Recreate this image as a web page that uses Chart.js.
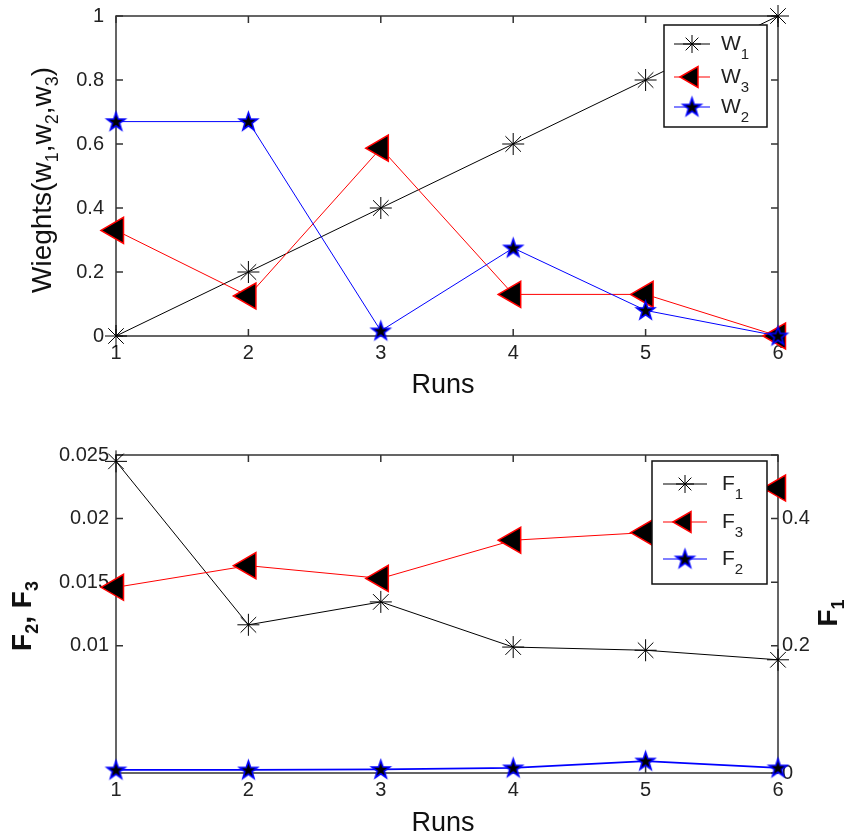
<!DOCTYPE html>
<html>
<head>
<meta charset="utf-8">
<script src="https://cdn.jsdelivr.net/npm/chart.js@4/dist/chart.umd.min.js"></script>
<style>
  html, body { margin: 0; padding: 0; background: #ffffff; }
  #wrap { position: relative; width: 850px; height: 836px; overflow: hidden; }
  canvas { position: absolute; left: 0; }
  #c1 { top: 0; }
  #c2 { top: 420px; }
</style>
</head>
<body>
<div id="wrap">
  <canvas id="c1" width="850" height="420"></canvas>
  <canvas id="c2" width="850" height="416"></canvas>
</div>
<script>
// ---------------- DATA ----------------
const runs = ['1', '2', '3', '4', '5', '6'];

// top panel: weights
const w1 = [0, 0.2, 0.4, 0.6, 0.8, 1.0];
const w3 = [0.33, 0.125, 0.587, 0.13, 0.13, 0];
const w2 = [0.67, 0.67, 0.016, 0.275, 0.08, 0];
const topYTicks = [0, 0.2, 0.4, 0.6, 0.8, 1];
const topYTickLabels = ['0', '0.2', '0.4', '0.6', '0.8', '1'];

// bottom panel: objectives
const f1 = [0.49, 0.233, 0.269, 0.198, 0.193, 0.178];          // right axis
const f3 = [0.0146, 0.0163, 0.0153, 0.0183, 0.0189, 0.0224];   // left axis
const f2 = [0.00024, 0.00024, 0.00028, 0.0004, 0.00094, 0.0004]; // left axis
const leftYTicks = [0.01, 0.015, 0.02, 0.025];
const leftYTickLabels = ['0.01', '0.015', '0.02', '0.025'];
const rightYTicks = [0, 0.2, 0.4];
const rightYTickLabels = ['0', '0.2', '0.4'];

// ---------------- STYLE HELPERS ----------------
const NARROW = "'Liberation Sans Narrow', 'Liberation Sans', Arial, sans-serif";
const SANS = "'Liberation Sans', Arial, sans-serif";
const TICK_COLOR = '#222222';
const AXIS_COLOR = '#333333';

function makePentagram(R, fill, stroke, lw) {
  const size = Math.ceil(2 * R + 2 * lw + 2);
  const c = document.createElement('canvas');
  c.width = size; c.height = size;
  const g = c.getContext('2d');
  const cx = size / 2, cy = size / 2 + 0.5;
  const r = R * 0.4;
  g.beginPath();
  for (let i = 0; i < 10; i++) {
    const ang = -Math.PI / 2 + i * Math.PI / 5;
    const rr = (i % 2 === 0) ? R : r;
    const px = cx + rr * Math.cos(ang), py = cy + rr * Math.sin(ang);
    if (i === 0) g.moveTo(px, py); else g.lineTo(px, py);
  }
  g.closePath();
  g.fillStyle = fill; g.fill();
  g.lineWidth = lw; g.strokeStyle = stroke; g.stroke();
  return c;
}
const starImg = makePentagram(9.5, '#000000', '#0000ff', 1.6);

const asteriskStyle = { pointStyle: 'star', radius: 11, rotation: 0, borderWidth: 1, stroke: '#000000', fill: '#000000' };
const triStyle = { pointStyle: 'triangle', radius: 15, rotation: -90, borderWidth: 1.5, stroke: '#ff0000', fill: '#000000' };
const pentStyle = { pointStyle: starImg, radius: 9, rotation: 0, borderWidth: 1, stroke: '#0000ff', fill: '#000000' };

function ds(label, data, color, lw, st, axis, order) {
  const d = {
    label, data,
    borderColor: color, borderWidth: lw, tension: 0, fill: false,
    pointStyle: st.pointStyle, pointRadius: st.radius, pointRotation: st.rotation,
    pointBorderWidth: st.borderWidth, pointBorderColor: st.stroke, pointBackgroundColor: st.fill,
    pointHoverRadius: st.radius,
    clip: false, order
  };
  if (axis) d.yAxisID = axis;
  return d;
}

function noPad(s) { s.paddingTop = 0; s.paddingBottom = 0; s.paddingLeft = 0; s.paddingRight = 0; }

// draw text made of parts (supports subscripts), possibly rotated
function drawRich(ctx, parts, x, y, rot, align) {
  ctx.save();
  ctx.translate(x, y);
  ctx.rotate(rot);
  ctx.textBaseline = 'alphabetic';
  ctx.textAlign = 'left';
  let total = 0;
  parts.forEach(p => { ctx.font = p.font; p.w = ctx.measureText(p.t).width; total += p.w; });
  let cx = align === 'center' ? -total / 2 : 0;
  parts.forEach(p => {
    ctx.font = p.font;
    ctx.fillStyle = p.color || '#111111';
    ctx.fillText(p.t, cx, p.dy || 0);
    cx += p.w;
  });
  ctx.restore();
}

function tickFrame(chart, leftScaleId, rightScaleIds) {
  const { ctx, chartArea: a } = chart;
  const L = 7;
  ctx.save();
  ctx.strokeStyle = AXIS_COLOR;
  ctx.lineWidth = 1.5;
  ctx.strokeRect(a.left, a.top, a.right - a.left, a.bottom - a.top);
  ctx.beginPath();
  const xs = chart.scales.x;
  xs.ticks.forEach((t, i) => {
    const px = xs.getPixelForTick(i);
    ctx.moveTo(px, a.bottom); ctx.lineTo(px, a.bottom - L);
    ctx.moveTo(px, a.top); ctx.lineTo(px, a.top + L);
  });
  const ls = chart.scales[leftScaleId];
  ls.ticks.forEach(t => {
    const py = ls.getPixelForValue(t.value);
    ctx.moveTo(a.left, py); ctx.lineTo(a.left + L, py);
    ctx.moveTo(a.right, py); ctx.lineTo(a.right - L, py);
  });
  (rightScaleIds || []).forEach(id => {
    const rs = chart.scales[id];
    rs.ticks.forEach(t => {
      const py = rs.getPixelForValue(t.value);
      ctx.moveTo(a.right, py); ctx.lineTo(a.right - L, py);
    });
  });
  ctx.stroke();
  ctx.restore();
}

function drawLegendBox(chart, box, entries) {
  const ctx = chart.ctx;
  ctx.save();
  ctx.fillStyle = '#ffffff';
  ctx.fillRect(box.x, box.y, box.w, box.h);
  ctx.strokeStyle = '#111111';
  ctx.lineWidth = 1.5;
  ctx.strokeRect(box.x, box.y, box.w, box.h);
  entries.forEach(e => {
    ctx.beginPath();
    ctx.strokeStyle = e.color;
    ctx.lineWidth = 1.2;
    ctx.moveTo(box.lx1, e.y); ctx.lineTo(box.lx2, e.y);
    ctx.stroke();
    ctx.save();
    ctx.strokeStyle = e.st.stroke;
    ctx.fillStyle = e.st.fill;
    ctx.lineWidth = e.st.borderWidth;
    const mr = e.st.legendRadius || e.st.radius;
    Chart.helpers.drawPoint(ctx, { pointStyle: e.st.pointStyle, radius: mr, rotation: e.st.rotation, borderWidth: e.st.borderWidth }, box.mx, e.y);
    ctx.restore();
    drawRich(ctx, [
      { t: e.main, font: '21px ' + NARROW, color: '#222222' },
      { t: e.sub, font: '15px ' + NARROW, dy: 9, color: '#222222' }
    ], box.tx, e.y + 6, 0, 'left');
  });
  ctx.restore();
}

// ---------------- TOP CHART ----------------
const topPlugin = {
  id: 'topDeco',
  beforeDatasetsDraw(chart) { tickFrame(chart, 'y', []); },
  afterDatasetsDraw(chart) {
    drawLegendBox(chart, { x: 664, y: 25, w: 103, h: 102, lx1: 674, lx2: 710, mx: 692, tx: 721 }, [
      { main: 'W', sub: '1', y: 44, color: '#000000', st: Object.assign({}, asteriskStyle, { legendRadius: 9 }) },
      { main: 'W', sub: '3', y: 77, color: '#ff0000', st: Object.assign({}, triStyle, { legendRadius: 12 }) },
      { main: 'W', sub: '2', y: 107, color: '#0000ff', st: pentStyle }
    ]);
    const ctx = chart.ctx;
    // x title
    drawRich(ctx, [{ t: 'Runs', font: '27px ' + SANS }], 443, 393, 0, 'center');
    // y title with subscripts
    const big = '28px ' + SANS, small = '18px ' + SANS;
    drawRich(ctx, [
      { t: 'Wieghts(w', font: big },
      { t: '1', font: small, dy: 7 },
      { t: ',w', font: big },
      { t: '2', font: small, dy: 7 },
      { t: ',w', font: big },
      { t: '3', font: small, dy: 7 },
      { t: ')', font: big }
    ], 51, 180, -Math.PI / 2, 'center');
  }
};

new Chart(document.getElementById('c1'), {
  type: 'line',
  data: {
    labels: runs,
    datasets: [
      ds('W1', w1, '#000000', 1, asteriskStyle, null, 2),
      ds('W3', w3, '#ff0000', 1, triStyle, null, 1),
      ds('W2', w2, '#0000ff', 1, pentStyle, null, 0)
    ]
  },
  options: {
    responsive: false, animation: false, devicePixelRatio: 1,
    layout: { autoPadding: false, padding: { left: 0, right: 72, top: 16, bottom: 0 } },
    plugins: { legend: { display: false }, tooltip: { enabled: false } },
    scales: {
      x: {
        type: 'category', offset: false,
        grid: { display: false, drawTicks: false }, border: { display: false },
        ticks: { font: { family: NARROW, size: 20 }, color: TICK_COLOR, padding: 5, maxRotation: 0, autoSkip: false },
        afterFit(s) { s.height = 84; noPad(s); }
      },
      y: {
        type: 'linear', min: 0, max: 1,
        afterBuildTicks(s) { s.ticks = topYTicks.map(v => ({ value: v })); },
        grid: { display: false, drawTicks: false }, border: { display: false },
        ticks: { font: { family: NARROW, size: 20 }, color: TICK_COLOR, padding: 12,
                 callback: (v, i) => topYTickLabels[i] },
        afterFit(s) { s.width = 116; noPad(s); }
      }
    }
  },
  plugins: [topPlugin]
});

// ---------------- BOTTOM CHART ----------------
const botPlugin = {
  id: 'botDeco',
  beforeDatasetsDraw(chart) { tickFrame(chart, 'y', ['y1']); },
  afterDatasetsDraw(chart) {
    drawLegendBox(chart, { x: 652, y: 41, w: 115, h: 123, lx1: 663, lx2: 707, mx: 685, tx: 722 }, [
      { main: 'F', sub: '1', y: 64, color: '#000000', st: Object.assign({}, asteriskStyle, { legendRadius: 9 }) },
      { main: 'F', sub: '3', y: 102, color: '#ff0000', st: Object.assign({}, triStyle, { legendRadius: 12 }) },
      { main: 'F', sub: '2', y: 139, color: '#0000ff', st: pentStyle }
    ]);
    const ctx = chart.ctx;
    drawRich(ctx, [{ t: 'Runs', font: '27px ' + SANS }], 443, 411, 0, 'center');
    const big = 'bold 28px ' + SANS, small = 'bold 18px ' + SANS;
    drawRich(ctx, [
      { t: 'F', font: big },
      { t: '2', font: small, dy: 7 },
      { t: ', F', font: big },
      { t: '3', font: small, dy: 7 }
    ], 31, 196, -Math.PI / 2, 'center');
    drawRich(ctx, [
      { t: 'F', font: big },
      { t: '1', font: small, dy: 7 }
    ], 837, 193, -Math.PI / 2, 'center');
  }
};

new Chart(document.getElementById('c2'), {
  type: 'line',
  data: {
    labels: runs,
    datasets: [
      ds('F1', f1, '#000000', 1, asteriskStyle, 'y1', 2),
      ds('F3', f3, '#ff0000', 1, triStyle, 'y', 1),
      ds('F2', f2, '#0000ff', 1.8, pentStyle, 'y', 0)
    ]
  },
  options: {
    responsive: false, animation: false, devicePixelRatio: 1,
    layout: { autoPadding: false, padding: { left: 0, right: 0, top: 35, bottom: 0 } },
    plugins: { legend: { display: false }, tooltip: { enabled: false } },
    scales: {
      x: {
        type: 'category', offset: false,
        grid: { display: false, drawTicks: false }, border: { display: false },
        ticks: { font: { family: NARROW, size: 20 }, color: TICK_COLOR, padding: 5, maxRotation: 0, autoSkip: false },
        afterFit(s) { s.height = 63; noPad(s); }
      },
      y: {
        type: 'linear', position: 'left', min: 0, max: 0.025,
        afterBuildTicks(s) { s.ticks = leftYTicks.map(v => ({ value: v })); },
        grid: { display: false, drawTicks: false }, border: { display: false },
        ticks: { font: { family: NARROW, size: 20 }, color: TICK_COLOR, padding: 7,
                 callback: (v, i) => leftYTickLabels[i] },
        afterFit(s) { s.width = 116; noPad(s); }
      },
      y1: {
        type: 'linear', position: 'right', min: 0, max: 0.5,
        afterBuildTicks(s) { s.ticks = rightYTicks.map(v => ({ value: v })); },
        grid: { display: false, drawTicks: false }, border: { display: false },
        ticks: { font: { family: NARROW, size: 20 }, color: TICK_COLOR, padding: 4,
                 callback: (v, i) => rightYTickLabels[i] },
        afterFit(s) { s.width = 72; noPad(s); }
      }
    }
  },
  plugins: [botPlugin]
});
</script>
</body>
</html>
